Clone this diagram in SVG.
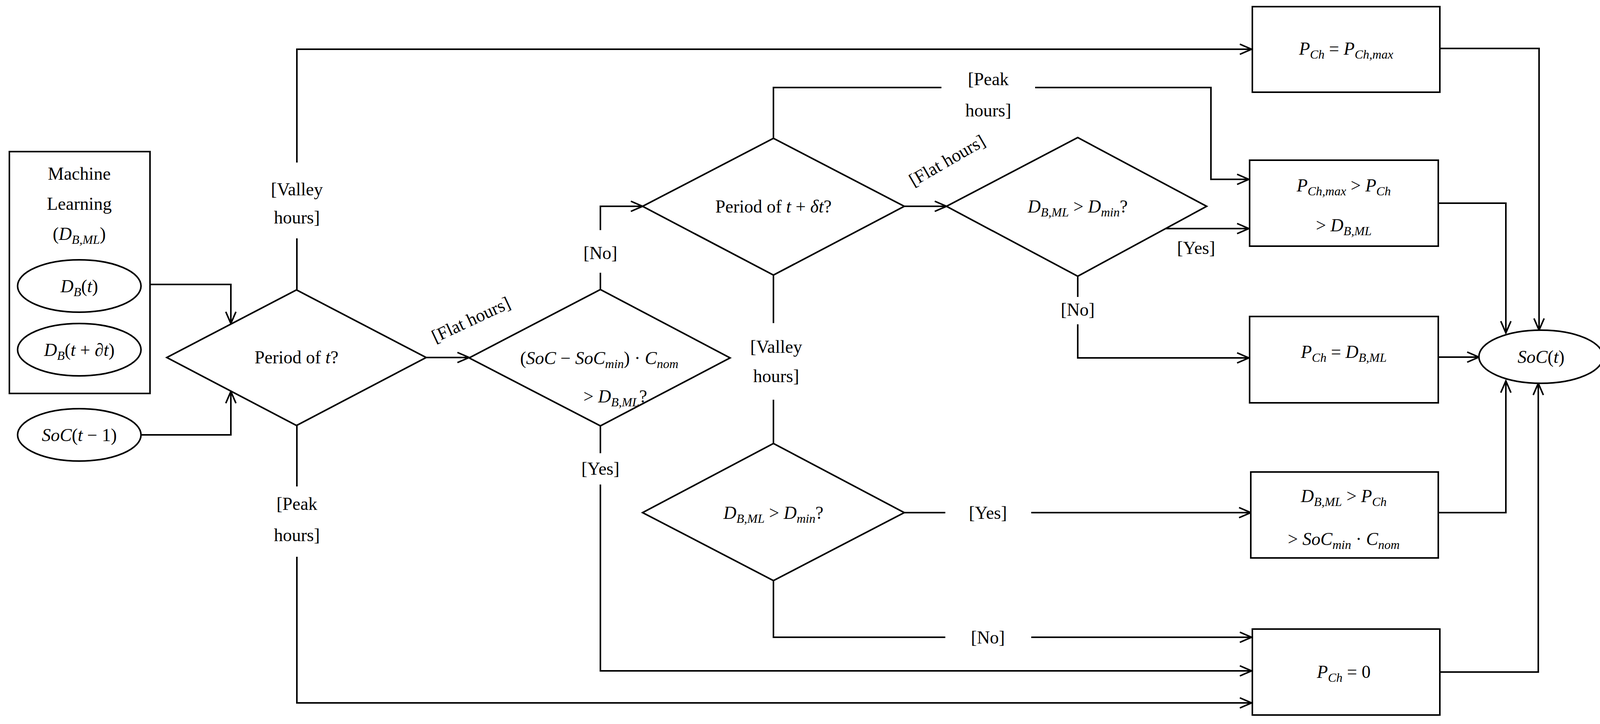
<svg xmlns="http://www.w3.org/2000/svg" width="4139" height="1853" viewBox="0 0 4139 1853">
<style>
.s{fill:#fff;stroke:#000;stroke-width:4}
.c{fill:none;stroke:#000;stroke-width:4}
text{font-family:"Liberation Serif",serif;font-size:46px;text-anchor:middle;fill:#000}
.m{font-style:italic}
.sub{font-size:32px;font-style:italic}
</style>
<defs>
<marker id="a" markerWidth="40" markerHeight="30" refX="34" refY="15" orient="auto" markerUnits="userSpaceOnUse">
<path d="M4,2 L34,15 L4,28" fill="none" stroke="#000" stroke-width="4"/>
</marker>
</defs>
<rect width="4139" height="1853" fill="#fff"/>
<g id="connectors" class="c">
<path d="M760,742 V610 M760,416 V126 H3204" marker-end="url(#a)"/>
<path d="M760,1089 V1245 M760,1425 V1799 H3204" marker-end="url(#a)"/>
<path d="M1091,915 H1201" marker-end="url(#a)"/>
<path d="M384,728 H591 V828" marker-end="url(#a)"/>
<path d="M362,1113 H591 V1002" marker-end="url(#a)"/>
<path d="M1537,741 V698 M1537,589 V528 H1645" marker-end="url(#a)"/>
<path d="M1537,1090 V1160 M1537,1240 V1717 H3204" marker-end="url(#a)"/>
<path d="M1980,354 V224 H2410 M2650,224 H3100 V459 H3197" marker-end="url(#a)"/>
<path d="M2315,528 H2423" marker-end="url(#a)"/>
<path d="M1980,704 V827 M1980,1023 V1135"/>
<path d="M2759,707 V760 M2759,830 V916 H3197" marker-end="url(#a)"/>
<path d="M2984,585 H3197" marker-end="url(#a)"/>
<path d="M2315,1312 H2420 M2640,1312 H3202" marker-end="url(#a)"/>
<path d="M1980,1486 V1631 H2420 M2640,1631 H3204" marker-end="url(#a)"/>
<path d="M3686,124 H3940 V845" marker-end="url(#a)"/>
<path d="M3682,520 H3855 V852" marker-end="url(#a)"/>
<path d="M3682,914 H3786" marker-end="url(#a)"/>
<path d="M3682,1312 H3855 V975" marker-end="url(#a)"/>
<path d="M3686,1720 H3938 V981" marker-end="url(#a)"/>
</g>
<g id="labels">
<text x="760" y="500">[Valley</text><text x="760" y="572">hours]</text>
<text x="760" y="1305">[Peak</text><text x="760" y="1385">hours]</text>
<text transform="translate(1212,832) rotate(-25)">[Flat hours]</text>
<text x="1537" y="663">[No]</text>
<text x="1537" y="1215">[Yes]</text>
<text x="2530" y="218">[Peak</text><text x="2530" y="298">hours]</text>
<text transform="translate(2432,424) rotate(-30)">[Flat hours]</text>
<text x="1987" y="903">[Valley</text><text x="1987" y="978">hours]</text>
<text x="2759" y="808">[No]</text>
<text x="3062" y="650">[Yes]</text>
<text x="2529" y="1328">[Yes]</text>
<text x="2529" y="1647">[No]</text>
</g>
<g id="ml">
<rect class="s" x="24" y="388" width="360" height="619"/>
<text x="203" y="460">Machine</text>
<text x="203" y="537">Learning</text>
<text x="203" y="614">(<tspan class="m">D</tspan><tspan class="sub" dy="10">B,ML</tspan><tspan dy="-10">)</tspan></text>
</g>
<g id="db_t"><ellipse class="s" cx="203" cy="732" rx="158" ry="67"/><text x="203" y="748"><tspan class="m">D</tspan><tspan class="sub" dy="10">B</tspan><tspan dy="-10">(</tspan><tspan class="m">t</tspan>)</text></g>
<g id="db_tdt"><ellipse class="s" cx="203" cy="895" rx="158" ry="67"/><text x="203" y="911"><tspan class="m">D</tspan><tspan class="sub" dy="10">B</tspan><tspan dy="-10">(</tspan><tspan class="m">t</tspan> + ∂<tspan class="m">t</tspan>)</text></g>
<g id="soc_prev"><ellipse class="s" cx="203" cy="1113" rx="158" ry="67"/><text x="203" y="1129"><tspan class="m">SoC</tspan>(<tspan class="m">t</tspan> − 1)</text></g>
<g id="d1"><polygon class="s" points="427,915 759,742 1091,915 759,1089"/><text x="759" y="930" font-size="40">Period of <tspan class="m">t</tspan>?</text></g>
<g id="d2"><polygon class="s" points="1201,916 1537,741 1869,916 1537,1090"/>
<text x="1534" y="932">(<tspan class="m">SoC</tspan> − <tspan class="m">SoC</tspan><tspan class="sub" dy="10">min</tspan><tspan dy="-10">) · </tspan><tspan class="m">C</tspan><tspan class="sub" dy="10">nom</tspan></text>
<text x="1575" y="1030">&gt; <tspan class="m">D</tspan><tspan class="sub" dy="10">B,ML</tspan><tspan dy="-10">?</tspan></text></g>
<g id="d3"><polygon class="s" points="1645,528 1980,354 2315,528 1980,704"/><text x="1980" y="544">Period of <tspan class="m">t</tspan> + <tspan class="m">δt</tspan>?</text></g>
<g id="d4"><polygon class="s" points="2423,528 2759,352 3089,528 2759,707"/><text x="2759" y="544"><tspan class="m">D</tspan><tspan class="sub" dy="10">B,ML</tspan><tspan dy="-10"> &gt; </tspan><tspan class="m">D</tspan><tspan class="sub" dy="10">min</tspan><tspan dy="-10">?</tspan></text></g>
<g id="d5"><polygon class="s" points="1645,1312 1980,1135 2315,1312 1980,1486"/><text x="1980" y="1328"><tspan class="m">D</tspan><tspan class="sub" dy="10">B,ML</tspan><tspan dy="-10"> &gt; </tspan><tspan class="m">D</tspan><tspan class="sub" dy="10">min</tspan><tspan dy="-10">?</tspan></text></g>
<g id="b1"><rect class="s" x="3206" y="17" width="480" height="219"/><text x="3446" y="140"><tspan class="m">P</tspan><tspan class="sub" dy="10">Ch</tspan><tspan dy="-10"> =  </tspan><tspan class="m">P</tspan><tspan class="sub" dy="10">Ch,max</tspan></text></g>
<g id="b2"><rect class="s" x="3199" y="410" width="483" height="220"/><text x="3440" y="490"><tspan class="m">P</tspan><tspan class="sub" dy="10">Ch,max</tspan><tspan dy="-10"> &gt; </tspan><tspan class="m">P</tspan><tspan class="sub" dy="10">Ch</tspan></text><text x="3440" y="592">&gt; <tspan class="m">D</tspan><tspan class="sub" dy="10">B,ML</tspan></text></g>
<g id="b3"><rect class="s" x="3199" y="810" width="483" height="221"/><text x="3440" y="916"><tspan class="m">P</tspan><tspan class="sub" dy="10">Ch</tspan><tspan dy="-10"> = </tspan><tspan class="m">D</tspan><tspan class="sub" dy="10">B,ML</tspan></text></g>
<g id="b4"><rect class="s" x="3202" y="1208" width="480" height="220"/><text x="3440" y="1285"><tspan class="m">D</tspan><tspan class="sub" dy="10">B,ML</tspan><tspan dy="-10"> &gt; </tspan><tspan class="m">P</tspan><tspan class="sub" dy="10">Ch</tspan></text><text x="3440" y="1395">&gt; <tspan class="m">SoC</tspan><tspan class="sub" dy="10">min</tspan><tspan dy="-10"> · </tspan><tspan class="m">C</tspan><tspan class="sub" dy="10">nom</tspan></text></g>
<g id="b5"><rect class="s" x="3206" y="1610" width="480" height="220"/><text x="3440" y="1735"><tspan class="m">P</tspan><tspan class="sub" dy="10">Ch</tspan><tspan dy="-10"> = 0</tspan></text></g>
<g id="soc_t"><ellipse class="s" cx="3945" cy="913" rx="159" ry="68"/><text x="3945" y="929"><tspan class="m">SoC</tspan>(<tspan class="m">t</tspan>)</text></g>
</svg>
